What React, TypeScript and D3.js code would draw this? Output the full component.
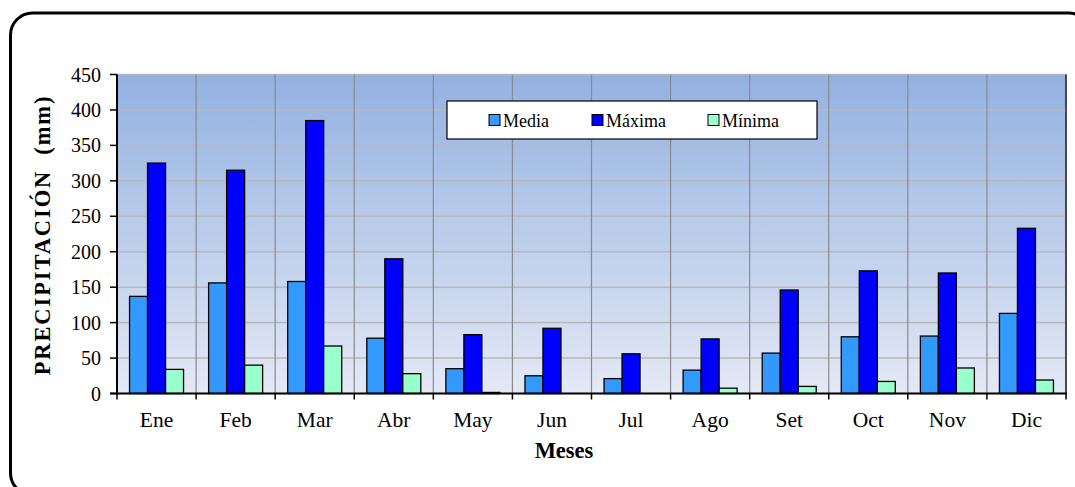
import React from "react";
import * as d3 from "d3";

const months = ["Ene", "Feb", "Mar", "Abr", "May", "Jun", "Jul", "Ago", "Set", "Oct", "Nov", "Dic"];
const media = [137, 156, 158, 78, 35, 25, 21, 33, 57, 80, 81, 113];
const maxima = [325, 315, 385, 190, 83, 92, 56, 77, 146, 173, 170, 233];
const minima = [34, 40, 67, 28, 1.5, 0, 0, 7.5, 10, 17, 36, 19];
const yTicks = [0, 50, 100, 150, 200, 250, 300, 350, 400, 450];
const seriesNames = ["Media", "Máxima", "Mínima"];
const seriesColors = ["#3399ff", "#0000ff", "#99ffcc"];

const W = 1075;
const H = 487;
const M = { left: 117, right: 1066, top: 74.5, bottom: 393.5 };

export default function App() {
  const x = d3.scaleBand<string>().domain(months).range([M.left, M.right]).paddingInner(0).paddingOuter(0);
  const y = d3.scaleLinear().domain([0, 450]).range([M.bottom, M.top]);
  const bw = x.bandwidth();
  const barW = 18;
  const groupW = barW * 3;
  const off = (bw - groupW) / 2;
  const series = [media, maxima, minima];
  const font = "'Liberation Serif', 'Times New Roman', serif";

  return (
    <svg width={W} height={H} style={{ position: "absolute", left: 0, top: 0 }} fontFamily={font}>
      <defs>
        <linearGradient id="bg" x1="0" y1="0" x2="0" y2="1">
          <stop offset="0" stopColor="#93b1e1" />
          <stop offset="1" stopColor="#e4e9f5" />
        </linearGradient>
      </defs>
      <rect x={0} y={0} width={W} height={H} fill="#fff" />
      <rect x={10.5} y={13} width={1080} height={482} rx={22} ry={22} fill="none" stroke="#000" strokeWidth={3} />
      <rect x={M.left} y={M.top} width={M.right - M.left} height={M.bottom - M.top} fill="url(#bg)" stroke="#333" strokeWidth={1} />
      {yTicks.slice(1).map((t) => (
        <line key={"g" + t} x1={M.left} x2={M.right} y1={y(t)} y2={y(t)} stroke="#b8b8b8" strokeWidth={1.5} />
      ))}
      {months.slice(1).map((m) => (
        <line key={"v" + m} x1={x(m)!} x2={x(m)!} y1={M.top} y2={M.bottom} stroke="#8a8a8a" strokeWidth={1.2} />
      ))}
      <line x1={M.right} x2={M.right} y1={M.top} y2={M.bottom} stroke="#333" strokeWidth={1.5} />
      {months.map((m, i) =>
        series.map((s, k) => {
          const v = s[i];
          const bx = x(m)! + off + k * barW;
          const by = y(v);
          return (
            <rect key={m + k} x={bx} y={by} width={barW} height={Math.max(0, y(0) - by)} fill={seriesColors[k]} stroke="#000" strokeWidth={1.3} />
          );
        })
      )}
      <line x1={M.left} x2={M.left} y1={M.top} y2={M.bottom + 1} stroke="#000" strokeWidth={2} />
      <line x1={M.left - 7} x2={M.right + 1} y1={M.bottom} y2={M.bottom} stroke="#000" strokeWidth={2} />
      {yTicks.map((t) => (
        <g key={"t" + t}>
          <line x1={M.left - 7} x2={M.left} y1={y(t)} y2={y(t)} stroke="#000" strokeWidth={1.5} />
          <text x={101} y={y(t) + 7} textAnchor="end" fontSize={20} fill="#000">
            {t}
          </text>
        </g>
      ))}
      {months.map((m) => (
        <line key={"xt" + m} x1={x(m)!} x2={x(m)!} y1={M.bottom} y2={M.bottom + 6} stroke="#000" strokeWidth={1.5} />
      ))}
      <line x1={M.right} x2={M.right} y1={M.bottom} y2={M.bottom + 6} stroke="#000" strokeWidth={1.5} />
      {months.map((m) => (
        <text key={"xl" + m} x={x(m)! + bw / 2} y={427} textAnchor="middle" fontSize={21.5} fill="#000">
          {m}
        </text>
      ))}
      <text x={564} y={458} textAnchor="middle" fontSize={22.5} fontWeight="bold" fill="#000">
        Meses
      </text>
      <text transform={`translate(50, 235) rotate(-90)`} textAnchor="middle" fontSize={22.5} fontWeight="bold" letterSpacing={1.9} fill="#000" style={{ whiteSpace: "pre" }}>
        {"PRECIPITACIÓN  (mm)"}
      </text>
      <rect x={447} y={101} width={370} height={38} fill="#fff" stroke="#000" strokeWidth={1.2} />
      {seriesNames.map((n, k) => {
        const sx = [489, 592, 708][k];
        return (
          <g key={"lg" + n}>
            <rect x={sx} y={114.5} width={11} height={11} fill={seriesColors[k]} stroke="#000" strokeWidth={1} />
            <text x={sx + 14} y={126.5} fontSize={18} fill="#000">
              {n}
            </text>
          </g>
        );
      })}
    </svg>
  );
}
